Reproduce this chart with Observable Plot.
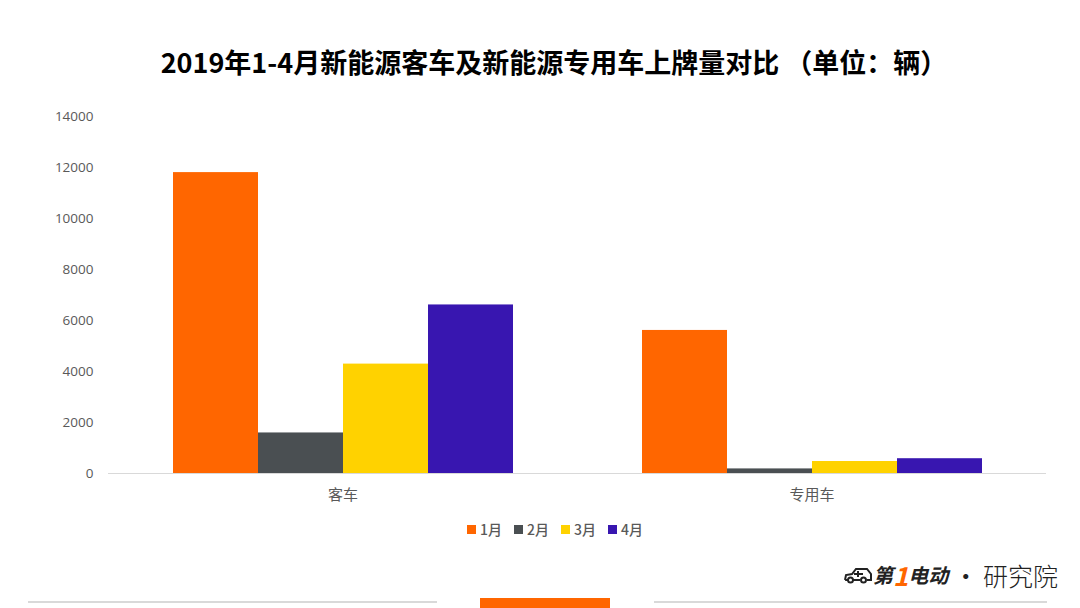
<!DOCTYPE html>
<html>
<head>
<meta charset="utf-8">
<script src="https://cdn.jsdelivr.net/npm/d3@7"></script>
<script src="https://cdn.jsdelivr.net/npm/@observablehq/plot@0.6"></script>
<style>
  html, body { margin: 0; padding: 0; background: #fff; }
  body { width: 1080px; height: 608px; position: relative; overflow: hidden; font-family: "Noto Sans CJK SC", "Noto Sans", sans-serif; }
  #title { position: absolute; top: 38px; left: 14px; width: 1080px; text-align: center; font-size: 27px; font-weight: bold; line-height: 48px; color: #000; }
  #chart { position: absolute; top: 96px; left: 0; }
  #legend { position: absolute; top: 519px; left: 0; width: 1080px; display: flex; justify-content: center; font-size: 14px; color: #595959; font-weight: 500; line-height: 20px; padding-left: 42px; box-sizing: border-box; }
  #legend .item { display: flex; align-items: center; margin-right: 12px; }
  #legend .sw { width: 9px; height: 9px; margin-right: 4px; }
  .line { position: absolute; height: 2px; background: #d9d9d9; top: 601px; }
  #bar { position: absolute; left: 480px; top: 598px; width: 130px; height: 10px; background: #FF6600; }
  #logo { position: absolute; left: 843px; top: 556px; font-size: 24px; color: #222; white-space: nowrap; display: flex; align-items: center; }
  #logo .a { font-weight: bold; font-style: italic; font-size: 20px; }
  #logo .one { color: #FF6600; font-weight: bold; font-style: italic; font-size: 26px; }
  #logo .b { font-weight: 300; font-size: 25px; }
</style>
</head>
<body>
<div id="title">2019年1-4月新能源客车及新能源专用车上牌量对比 （单位：辆）</div>
<div id="chart"></div>
<div id="legend"></div>
<div class="line" style="left:28px;width:409px"></div>
<div id="bar"></div>
<div class="line" style="left:654px;width:393px"></div>
<div id="logo"><svg width="30" height="20" viewBox="0 0 30 20"><path d="M2 15 L3 10 L9 9 L13 4 L24 4 L28 9 L28 15 L24 15 M17 15 L10 15 M5 15 L2 15" fill="none" stroke="#222" stroke-width="2"/><circle cx="7.5" cy="15" r="2.5" fill="none" stroke="#222" stroke-width="2"/><circle cx="20.5" cy="15" r="2.5" fill="none" stroke="#222" stroke-width="2"/><path d="M11 9 L20 9 M15 6 L15 12" stroke="#222" stroke-width="2"/></svg><span class="a">第</span><span class="one">1</span><span class="a">电动</span>&nbsp;•&nbsp;<span class="b">研究院</span></div>
<script>
const categories = ["客车", "专用车"];
const months = ["1月", "2月", "3月", "4月"];
const colors = ["#FF6600", "#4A4F52", "#FFD200", "#3816B0"];
const busValues = [11800, 1590, 4290, 6610];
const specialValues = [5610, 180, 470, 580];
const yTicks = [0, 2000, 4000, 6000, 8000, 10000, 12000, 14000];

const seriesByCat = [busValues, specialValues];
const data = [];
categories.forEach((c, i) => months.forEach((m, j) => data.push({cat: c, month: m, value: seriesByCat[i][j]})));

const chart = Plot.plot({
  width: 1080,
  height: 417,
  marginTop: 20,
  marginBottom: 40,
  marginLeft: 108,
  marginRight: 34,
  style: {fontFamily: '"Noto Sans CJK SC", "Noto Sans", sans-serif', color: "#595959", background: "#fff"},
  fx: {domain: categories, padding: 0, label: null},
  x: {domain: months, paddingInner: 0, paddingOuter: 0.74, axis: null},
  y: {domain: [0, 14000], label: null},
  color: {domain: months, range: colors},
  marks: [
    Plot.ruleY([0], {stroke: "#d9d9d9", strokeWidth: 1}),
    Plot.barY(data, {fx: "cat", x: "month", y: "value", fill: "month"}),
    Plot.axisY({ticks: yTicks, tickSize: 0, tickPadding: 15, fontSize: 13.5, fontFamily: '"Open Sans", sans-serif', tickFormat: d => String(d), label: null}),
    Plot.axisFx({anchor: "bottom", tickSize: 0, tickPadding: 16, fontSize: 15, label: null})
  ]
});
document.getElementById("chart").appendChild(chart);

const legend = document.getElementById("legend");
months.forEach((m, i) => {
  const item = document.createElement("div");
  item.className = "item";
  const sw = document.createElement("span");
  sw.className = "sw";
  sw.style.background = colors[i];
  const t = document.createElement("span");
  t.textContent = m;
  item.appendChild(sw);
  item.appendChild(t);
  legend.appendChild(item);
});
</script>
</body>
</html>
